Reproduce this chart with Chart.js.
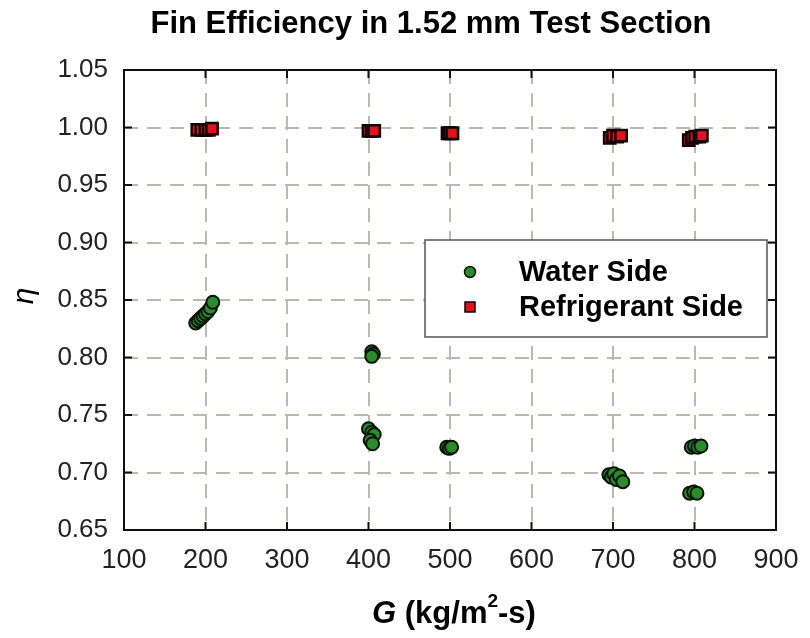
<!DOCTYPE html>
<html>
<head>
<meta charset="utf-8">
<script src="https://cdn.jsdelivr.net/npm/chart.js@4"></script>
<style>
  html, body { margin: 0; padding: 0; background: #fff; }
  #wrap { width: 810px; height: 638px; }
</style>
</head>
<body>
<div id="wrap"><canvas id="finChart"></canvas></div>
<script>
// data
var waterG = [188, 191, 194, 197, 200, 203, 206, 209,
    404, 406, 404, 400, 404, 407, 402, 405,
    496, 499, 502,
    695, 698, 701, 704, 708, 712,
    796, 800, 804, 808, 794, 799, 803];
var waterEta = [0.830, 0.832, 0.834, 0.836, 0.838, 0.840, 0.843, 0.848,
    0.805, 0.803, 0.801, 0.738, 0.735, 0.733, 0.728, 0.725,
    0.722, 0.721, 0.722,
    0.698, 0.696, 0.699, 0.694, 0.697, 0.692,
    0.722, 0.723, 0.722, 0.723, 0.682, 0.683, 0.682];
var refG = [190, 195, 200, 204, 208,
    400, 404, 407,
    497, 500, 503,
    696, 700, 705, 710,
    793, 797, 801, 806, 809];
var refEta = [0.998, 0.998, 0.998, 0.998, 0.999,
    0.997, 0.997, 0.997,
    0.995, 0.995, 0.995,
    0.991, 0.993, 0.992, 0.993,
    0.989, 0.991, 0.992, 0.992, 0.993];
var xTicks = [100, 200, 300, 400, 500, 600, 700, 800, 900];
var yTicks = [0.65, 0.70, 0.75, 0.80, 0.85, 0.90, 0.95, 1.00, 1.05];

var fontFamily = "'Liberation Sans', Arial, sans-serif";
var gridColor = "#b9b9b1";

function toPoints(xs, ys) {
    return xs.map(function (x, i) {
        return { x: x, y: ys[i] };
    });
}

// title, axis titles, frame with inner ticks, legend box
var decorPlugin = {
    id: "decor",
    afterDraw: function (chart) {
        var ctx = chart.ctx;
        var a = chart.chartArea;
        var xs = chart.scales.x;
        var ys = chart.scales.y;
        ctx.save();

        // frame
        ctx.strokeStyle = "#111";
        ctx.lineWidth = 2;
        ctx.strokeRect(a.left, a.top, a.right - a.left, a.bottom - a.top);
        ctx.beginPath();
        xTicks.forEach(function (v) {
            var px = xs.getPixelForValue(v);
            ctx.moveTo(px, a.bottom); ctx.lineTo(px, a.bottom - 8);
            ctx.moveTo(px, a.top); ctx.lineTo(px, a.top + 8);
        });
        yTicks.forEach(function (v) {
            var py = ys.getPixelForValue(v);
            ctx.moveTo(a.left, py); ctx.lineTo(a.left + 8, py);
            ctx.moveTo(a.right, py); ctx.lineTo(a.right - 8, py);
        });
        ctx.stroke();

        // chart title
        ctx.fillStyle = "#000";
        ctx.textAlign = "center";
        ctx.textBaseline = "middle";
        ctx.font = "bold 31px " + fontFamily;
        ctx.fillText("Fin Efficiency in 1.52 mm Test Section", 431, 24);

        // x axis title: G (kg/m²-s)
        var parts = [
            { t: "G", f: "italic bold 31px " + fontFamily, dy: 0 },
            { t: " (kg/m", f: "bold 31px " + fontFamily, dy: 0 },
            { t: "2", f: "bold 19px " + fontFamily, dy: -12 },
            { t: "-s)", f: "bold 31px " + fontFamily, dy: 0 },
        ];
        var total = 0;
        parts.forEach(function (p) {
            ctx.font = p.f;
            p.w = ctx.measureText(p.t).width;
            total += p.w;
        });
        var cx = 454 - total / 2;
        ctx.textAlign = "left";
        parts.forEach(function (p) {
            ctx.font = p.f;
            ctx.fillText(p.t, cx, 614 + p.dy);
            cx += p.w;
        });

        // y axis title
        ctx.save();
        ctx.translate(25, 296);
        ctx.rotate(-Math.PI / 2);
        ctx.textAlign = "center";
        ctx.font = "italic 30px " + fontFamily;
        ctx.fillText("\u03b7", 0, 0);
        ctx.restore();

        // legend
        ctx.fillStyle = "#fff";
        ctx.fillRect(425, 240, 342, 97);
        ctx.strokeStyle = "#555";
        ctx.lineWidth = 1.5;
        ctx.strokeRect(425, 240, 342, 97);
        chart.data.datasets.forEach(function (ds, i) {
            var ly = 272 + i * 35;
            ctx.fillStyle = ds.backgroundColor;
            ctx.strokeStyle = ds.borderColor;
            ctx.lineWidth = 1.5;
            ctx.beginPath();
            if (ds.pointStyle === "rect") {
                ctx.rect(465, ly - 5, 10, 10);
            } else {
                ctx.arc(470, ly, 5.5, 0, Math.PI * 2);
            }
            ctx.fill();
            ctx.stroke();
            ctx.fillStyle = "#000";
            ctx.font = "bold 29px " + fontFamily;
            ctx.textAlign = "left";
            ctx.fillText(ds.label, 519, ly + 1);
        });
        ctx.restore();
    },
};

var config_scatter = {
    type: "scatter",
    data: {
        datasets: [
            {
                label: "Water Side",
                data: toPoints(waterG, waterEta),
                pointStyle: "circle",
                pointRadius: 6.5,
                borderWidth: 2,
                borderColor: "#0a140a",
                backgroundColor: "#2c8c2c",
            },
            {
                label: "Refrigerant Side",
                data: toPoints(refG, refEta),
                pointStyle: "rect",
                pointRadius: 8,
                borderWidth: 2.5,
                borderColor: "#120303",
                backgroundColor: "#e0121c",
            },
        ],
    },
    options: {
        responsive: false,
        animation: false,
        layout: {
            padding: { top: 70, right: 34, left: 0, bottom: 0 },
        },
        scales: {
            x: {
                type: "linear",
                min: 100,
                max: 900,
                afterBuildTicks: function (scale) {
                    scale.ticks = xTicks.map(function (v) { return { value: v }; });
                },
                afterFit: function (scale) {
                    scale.height = 108;
                    scale.paddingLeft = 0;
                    scale.paddingRight = 0;
                },
                grid: { color: gridColor, lineWidth: 2, drawTicks: false },
                border: { display: false, dash: [14, 9] },
                ticks: {
                    padding: 14,
                    color: "#222",
                    font: { family: fontFamily, size: 27 },
                },
            },
            y: {
                type: "linear",
                min: 0.65,
                max: 1.05,
                afterBuildTicks: function (scale) {
                    scale.ticks = yTicks.map(function (v) { return { value: v }; });
                },
                afterFit: function (scale) {
                    scale.width = 124;
                    scale.paddingTop = 0;
                    scale.paddingBottom = 0;
                },
                grid: { color: gridColor, lineWidth: 2, drawTicks: false },
                border: { display: false, dash: [14, 9] },
                ticks: {
                    padding: 16,
                    color: "#222",
                    font: { family: fontFamily, size: 26 },
                    callback: function (v) { return v.toFixed(2); },
                },
            },
        },
        plugins: {
            legend: { display: false },
            title: { display: false },
            tooltip: { enabled: false },
        },
    },
    plugins: [decorPlugin],
};

var canvas = document.getElementById("finChart");
canvas.width = 810;
canvas.height = 638;
var finChart = new Chart(canvas, config_scatter);
</script>
</body>
</html>
